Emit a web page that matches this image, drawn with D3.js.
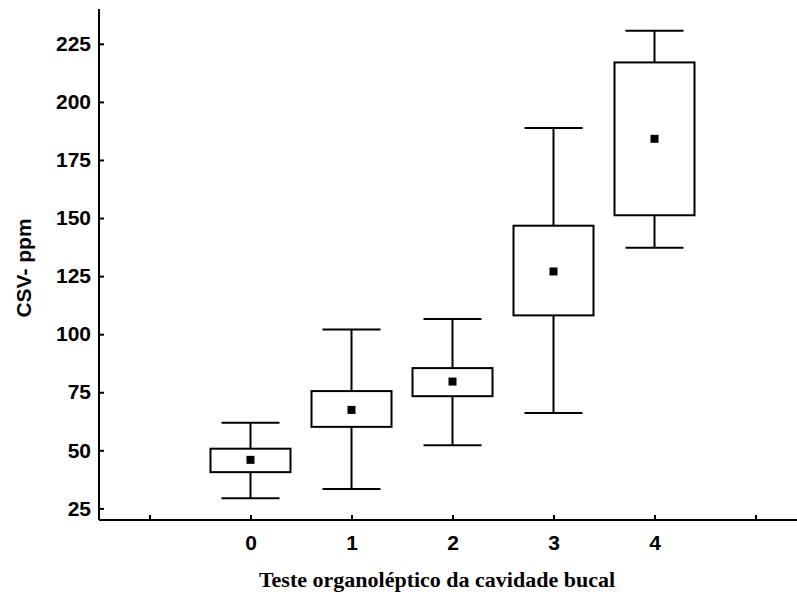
<!DOCTYPE html>
<html>
<head>
<meta charset="utf-8">
<script src="https://cdn.jsdelivr.net/npm/d3@7"></script>
<style>
    body { margin: 0; background: #fff; }
    svg { display: block; }
    .tick text { font-family: "Liberation Sans", Arial, sans-serif; font-weight: bold; font-size: 21px; fill: #000; }
</style>
</head>
<body>
<div class="js-chart"></div>
<script>
'use strict';

//categories of the organoleptic test and the values per box
var categories = [0, 1, 2, 3, 4];
var whiskerLow = [29.4, 33.4, 52.2, 66.1, 137.2];
var boxLow = [40.6, 60.1, 73.3, 108.1, 151.2];
var means = [45.9, 67.4, 79.6, 127.0, 184.1];
var boxHigh = [50.7, 75.5, 85.4, 146.7, 217.0];
var whiskerHigh = [61.9, 102.0, 106.5, 188.8, 230.6];

var yTicks = [25, 50, 75, 100, 125, 150, 175, 200, 225];
var xTicks = [-1, 0, 1, 2, 3, 4, 5];

var dim = { w: 797, h: 597 };
var margin = { top: 9, left: 99, bottom: 520 };

var svg = d3.select('.js-chart').append('svg')
    .attr('width', dim.w)
    .attr('height', dim.h);

var x = d3.scaleLinear().domain([-1.5, 5.5]).range([margin.left, margin.left + 7 * 101]);
var y = d3.scaleLinear().domain([20, 240]).range([margin.bottom, margin.top]);

var boxes = categories.map(function (c, i) {
    return { c: c, wl: whiskerLow[i], bl: boxLow[i], m: means[i], bh: boxHigh[i], wh: whiskerHigh[i] };
});

//whiskers
var g = svg.append('g').attr('stroke', '#000').attr('stroke-width', 2).attr('fill', 'none');
g.selectAll('.js-stem').data(boxes).enter().append('line')
    .attr('x1', function (d) { return x(d.c); })
    .attr('x2', function (d) { return x(d.c); })
    .attr('y1', function (d) { return y(d.wl); })
    .attr('y2', function (d) { return y(d.wh); });

['wl', 'wh'].forEach(function (k) {
    g.selectAll('.js-cap-' + k).data(boxes).enter().append('line')
        .attr('x1', function (d) { return x(d.c) - 29; })
        .attr('x2', function (d) { return x(d.c) + 29; })
        .attr('y1', function (d) { return y(d[k]); })
        .attr('y2', function (d) { return y(d[k]); });
});

//boxes
g.selectAll('.js-box').data(boxes).enter().append('rect')
    .attr('x', function (d) { return x(d.c) - 40; })
    .attr('width', 80)
    .attr('y', function (d) { return y(d.bh); })
    .attr('height', function (d) { return y(d.bl) - y(d.bh); })
    .style('fill', '#fff');

//mean markers
svg.selectAll('.js-mean').data(boxes).enter().append('rect')
    .attr('x', function (d) { return x(d.c) - 4; })
    .attr('y', function (d) { return y(d.m) - 4; })
    .attr('width', 8)
    .attr('height', 8)
    .style('fill', '#000');

//axes - ticks point inward
var yAxis = svg.append('g')
    .attr('transform', 'translate(' + margin.left + ',0)')
    .call(d3.axisLeft(y).tickValues(yTicks).tickSizeInner(-5).tickSizeOuter(0).tickPadding(8));

var xAxis = svg.append('g')
    .attr('transform', 'translate(0,' + margin.bottom + ')')
    .call(d3.axisBottom(x).tickValues(xTicks).tickSizeInner(-5).tickSizeOuter(0).tickPadding(15)
        .tickFormat(function (d) { return categories.indexOf(d) >= 0 ? d : ''; }));

[yAxis, xAxis].forEach(function (a) {
    a.selectAll('path, line').attr('stroke', '#000').attr('stroke-width', 2);
});
xAxis.select('.domain').attr('d', 'M' + margin.left + ',0H' + x.range()[1]);
yAxis.select('.domain').attr('d', 'M0,' + margin.bottom + 'V' + margin.top);

//axis titles
svg.append('text')
    .attr('transform', 'translate(31,268) rotate(-90)')
    .attr('text-anchor', 'middle')
    .style('font-family', '"Liberation Sans", Arial, sans-serif')
    .style('font-weight', 'bold')
    .style('font-size', '21px')
    .text('CSV- ppm');

svg.append('text')
    .attr('x', 437)
    .attr('y', 587)
    .attr('text-anchor', 'middle')
    .style('font-family', '"Liberation Serif", "Times New Roman", serif')
    .style('font-weight', 'bold')
    .style('font-size', '22px')
    .text('Teste organoléptico da cavidade bucal');
</script>
</body>
</html>
